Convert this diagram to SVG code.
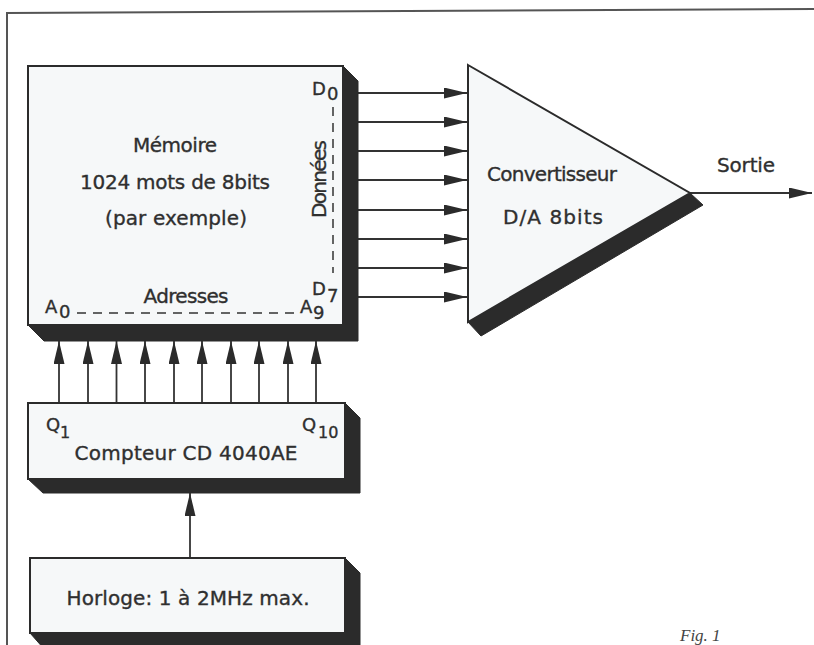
<svg xmlns="http://www.w3.org/2000/svg" width="814" height="645" viewBox="0 0 814 645">
<defs>
<marker id="ah" markerUnits="userSpaceOnUse" markerWidth="23" markerHeight="11" refX="23" refY="5.5" orient="auto">
<path d="M0,0 L23,5.5 L0,11 z" fill="#2b2b2b"/>
</marker>
<style>
.frame{stroke:#555;stroke-width:2;fill:none}
.box{fill:#f6f8f9;stroke:#2b2b2b;stroke-width:2}
.sh{fill:#2b2b2b;stroke:#2b2b2b;stroke-width:1}
.wire{stroke:#333;stroke-width:1.8;fill:none;marker-end:url(#ah)}
.dash{stroke:#333;stroke-width:1.5;stroke-dasharray:9,7;fill:none}
text{font-family:"DejaVu Sans","Liberation Sans",sans-serif;fill:#2f2f2f;stroke:#2f2f2f;stroke-width:0.35;font-size:20px}
.lbl{font-size:18px}
.mid{text-anchor:middle}
</style>
</defs>
<rect width="814" height="645" fill="#ffffff"/>
<g id="frame">
<line class="frame" x1="7" y1="13" x2="814" y2="9"/>
<line class="frame" x1="7" y1="12" x2="7" y2="645"/>
</g>
<g id="connectors">
<line class="wire" x1="358" y1="93" x2="467" y2="93"/>
<line class="wire" x1="358" y1="122" x2="467" y2="122"/>
<line class="wire" x1="358" y1="151" x2="467" y2="151"/>
<line class="wire" x1="358" y1="180" x2="467" y2="180"/>
<line class="wire" x1="358" y1="210" x2="467" y2="210"/>
<line class="wire" x1="358" y1="239" x2="467" y2="239"/>
<line class="wire" x1="358" y1="268" x2="467" y2="268"/>
<line class="wire" x1="358" y1="297" x2="467" y2="297"/>
<line class="wire" x1="690" y1="193" x2="812" y2="193"/>
<line class="wire" x1="59" y1="403" x2="59" y2="341"/>
<line class="wire" x1="88" y1="403" x2="88" y2="341"/>
<line class="wire" x1="116.5" y1="403" x2="116.5" y2="341"/>
<line class="wire" x1="145" y1="403" x2="145" y2="341"/>
<line class="wire" x1="174" y1="403" x2="174" y2="341"/>
<line class="wire" x1="202" y1="403" x2="202" y2="341"/>
<line class="wire" x1="231" y1="403" x2="231" y2="341"/>
<line class="wire" x1="259" y1="403" x2="259" y2="341"/>
<line class="wire" x1="288" y1="403" x2="288" y2="341"/>
<line class="wire" x1="316" y1="403" x2="316" y2="341"/>
<line class="wire" x1="190" y1="558" x2="190" y2="493"/>
</g>
<g id="memoire">
<polygon class="sh" points="343,66 358,81 358,341 44,341 28,325 343,325"/>
<rect class="box" x="28" y="66" width="315" height="259"/>
<text class="mid" x="175" y="152" textLength="84">Mémoire</text>
<text class="mid" x="175" y="189" textLength="190">1024 mots de 8bits</text>
<text class="mid" x="176" y="225" textLength="142">(par exemple)</text>
<text class="mid" x="326" y="179" transform="rotate(-90 326 179)" textLength="78">Données</text>
<line class="dash" x1="333" y1="107" x2="333" y2="273"/>
<text class="lbl" x="312" y="95">D<tspan x="327" y="100">0</tspan></text>
<text class="lbl" x="312" y="295">D<tspan x="327" y="302">7</tspan></text>
<text class="mid" x="186" y="303" textLength="85">Adresses</text>
<line class="dash" x1="77" y1="313" x2="297" y2="313"/>
<text class="lbl" x="45" y="313">A<tspan x="59" y="318">0</tspan></text>
<text class="lbl" x="300" y="313">A<tspan x="313" y="319">9</tspan></text>
</g>
<g id="convertisseur">
<polygon class="sh" points="468,322 690,193 703,205 481,336"/>
<polygon class="box" points="468,65 690,193 468,322"/>
<text class="mid" x="552" y="181" textLength="130">Convertisseur</text>
<text class="mid" x="553" y="224" textLength="100">D/A  8bits</text>
</g>
<g id="sortie">
<text class="mid" x="746" y="172" textLength="58">Sortie</text>
</g>
<g id="compteur">
<polygon class="sh" points="345,403 360,418 360,493 43,493 28,479 345,479"/>
<rect class="box" x="28" y="403" width="317" height="76"/>
<text class="lbl" x="46" y="431">Q<tspan x="60" y="438" font-size="16">1</tspan></text>
<text class="lbl" x="302" y="431">Q<tspan x="318" y="438" font-size="16">10</tspan></text>
<text class="mid" x="186" y="460" textLength="223">Compteur  CD 4040AE</text>
</g>
<g id="horloge">
<polygon class="sh" points="345,558 360,573 360,650 45,650 30,633 345,633"/>
<rect class="box" x="30" y="558" width="315" height="75"/>
<text class="mid" x="188" y="605" textLength="243">Horloge: 1 à 2MHz  max.</text>
</g>
<text x="680" y="641" style="font-family:'Liberation Serif',serif;font-style:italic;font-size:17px;fill:#444;stroke:none">Fig. 1</text>
</svg>
